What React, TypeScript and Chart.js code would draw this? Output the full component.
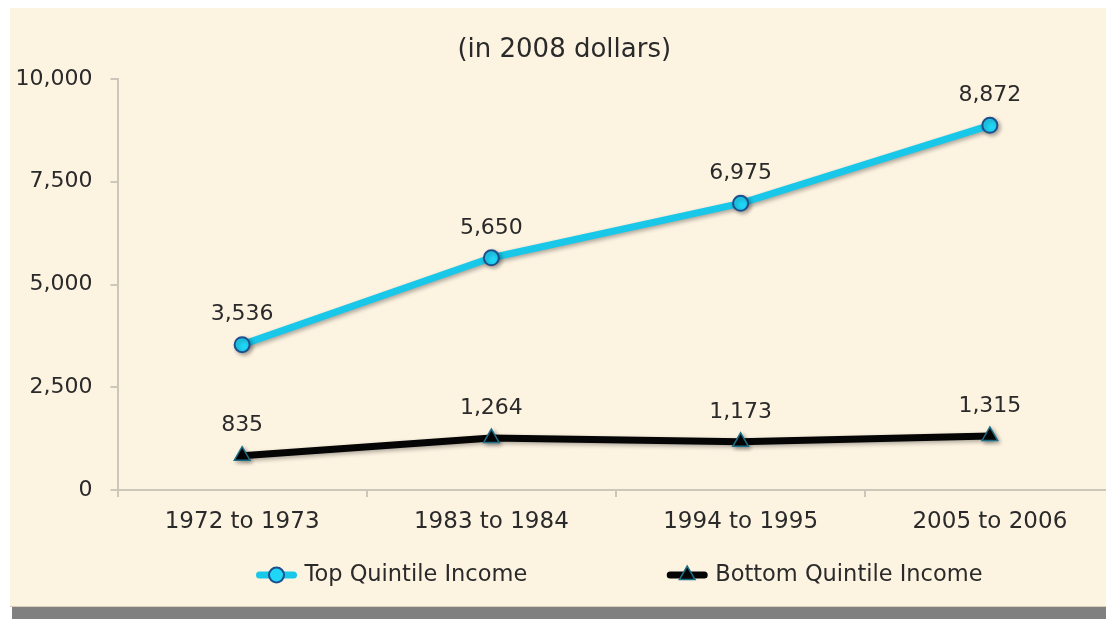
import React, { useEffect, useRef } from "react";
import { Chart, registerables } from "chart.js";

Chart.register(...registerables);

// ---- data ----
const categories = ["1972 to 1973", "1983 to 1984", "1994 to 1995", "2005 to 2006"];
const topQuintile = [3536, 5650, 6975, 8872];
const bottomQuintile = [835, 1264, 1173, 1315];
const seriesNames = ["Top Quintile Income", "Bottom Quintile Income"];
const yTickValues = [0, 2500, 5000, 7500, 10000];
const titleText = "(in 2008 dollars)";

// ---- styles ----
const FONT = "'DejaVu Sans', 'Lucida Grande', Verdana, sans-serif";
const TEXT = "#2a2a2a";
const AXIS = "#cdc7bb";
const CYAN_LINE = "#19c7e8";
const CYAN_FILL = "#1fd6f6";
const CYAN_EDGE = "#1d4f8f";
const BLACK = "#050505";
const TRI_EDGE = "#1b6f86";

const fmt = (v: number) => v.toLocaleString("en-US");

const shadowPlugin = {
  id: "softShadow",
  beforeDatasetDraw(chart: any) {
    const ctx = chart.ctx;
    ctx.save();
    ctx.shadowColor = "rgba(0,0,0,0.32)";
    ctx.shadowBlur = 4;
    ctx.shadowOffsetX = 2;
    ctx.shadowOffsetY = 2;
  },
  afterDatasetDraw(chart: any) {
    chart.ctx.restore();
  },
};

const valueLabelPlugin = {
  id: "valueLabels",
  afterDatasetsDraw(chart: any) {
    const ctx = chart.ctx;
    ctx.save();
    ctx.font = `22px ${FONT}`;
    ctx.fillStyle = TEXT;
    ctx.textAlign = "center";
    ctx.textBaseline = "middle";
    chart.data.datasets.forEach((ds: any, i: number) => {
      const meta = chart.getDatasetMeta(i);
      meta.data.forEach((el: any, j: number) => {
        ctx.fillText(fmt(ds.data[j]), el.x, el.y - 30);
      });
    });
    ctx.restore();
  },
};

function drawMarker(ctx: CanvasRenderingContext2D, ds: any, x: number, y: number) {
  const r = ds.pointRadius;
  ctx.beginPath();
  if (ds.pointStyle === "triangle") {
    for (let k = 0; k < 3; k++) {
      const a = (k * 2 * Math.PI) / 3;
      const px = x + Math.sin(a) * r;
      const py = y - Math.cos(a) * r;
      if (k === 0) ctx.moveTo(px, py);
      else ctx.lineTo(px, py);
    }
    ctx.closePath();
  } else {
    ctx.arc(x, y, r, 0, Math.PI * 2);
  }
  ctx.fillStyle = ds.pointBackgroundColor;
  ctx.fill();
  ctx.lineWidth = ds.pointBorderWidth;
  ctx.strokeStyle = ds.pointBorderColor;
  ctx.stroke();
}

const legendPlugin = {
  id: "lineLegend",
  afterDraw(chart: any) {
    const { ctx, chartArea } = chart;
    const y = chartArea.bottom + 85;
    const lineW = 40;
    const textGap = 8;
    const itemGap = 140;
    ctx.save();
    ctx.font = `22.5px ${FONT}`;
    const items = chart.data.datasets.map((ds: any) => ({
      ds,
      w: ctx.measureText(ds.label).width,
    }));
    let total = 0;
    items.forEach((it: any, i: number) => {
      total += lineW + textGap + it.w + (i > 0 ? itemGap : 0);
    });
    let x = (chartArea.left + chartArea.right) / 2 + 3.5 - total / 2;
    items.forEach((it: any) => {
      const ds = it.ds;
      ctx.beginPath();
      ctx.lineCap = "round";
      ctx.lineWidth = 7;
      ctx.strokeStyle = ds.borderColor;
      ctx.moveTo(x + 3, y);
      ctx.lineTo(x + lineW - 3, y);
      ctx.stroke();
      drawMarker(ctx, ds, x + lineW / 2, y);
      ctx.fillStyle = TEXT;
      ctx.textAlign = "left";
      ctx.textBaseline = "middle";
      ctx.fillText(ds.label, x + lineW + textGap, y);
      x += lineW + textGap + it.w + itemGap;
    });
    ctx.restore();
  },
};

export default function App() {
  const ref = useRef<HTMLCanvasElement>(null);

  useEffect(() => {
    Chart.defaults.font.family = FONT;
    Chart.defaults.color = TEXT;
    const chart = new Chart(ref.current as HTMLCanvasElement, {
      type: "line",
      data: {
        labels: categories,
        datasets: [
          {
            label: seriesNames[0],
            data: topQuintile,
            borderColor: CYAN_LINE,
            borderWidth: 7,
            tension: 0,
            pointStyle: "circle",
            pointRadius: 7.5,
            pointBackgroundColor: CYAN_FILL,
            pointBorderColor: CYAN_EDGE,
            pointBorderWidth: 2,
            borderCapStyle: "round",
            borderJoinStyle: "round",
          } as any,
          {
            label: seriesNames[1],
            data: bottomQuintile,
            borderColor: BLACK,
            borderWidth: 7,
            tension: 0,
            pointStyle: "triangle",
            pointRadius: 9,
            pointBackgroundColor: BLACK,
            pointBorderColor: TRI_EDGE,
            pointBorderWidth: 1.5,
            borderCapStyle: "round",
            borderJoinStyle: "round",
          } as any,
        ],
      },
      options: {
        responsive: false,
        animation: false,
        devicePixelRatio: 1,
        layout: { padding: { left: 0, right: 6.5, top: 0, bottom: 67 } },
        plugins: {
          legend: { display: false },
          tooltip: { enabled: false },
          title: {
            display: true,
            text: titleText,
            color: TEXT,
            font: { size: 26, weight: "normal", family: FONT },
            padding: { top: 26.4, bottom: 13.4 },
          },
        },
        scales: {
          x: {
            type: "category",
            offset: true,
            grid: {
              display: true,
              drawOnChartArea: false,
              drawTicks: true,
              tickLength: 7,
              color: AXIS,
              lineWidth: 2,
              offset: true,
            },
            border: { display: true, color: AXIS, width: 2 },
            ticks: { color: TEXT, font: { size: 23 }, padding: 11, maxRotation: 0 },
            afterFit: (scale: any) => {
              scale.height = 50;
            },
          },
          y: {
            min: 0,
            max: 10000,
            grid: {
              display: true,
              drawOnChartArea: false,
              drawTicks: true,
              tickLength: 7,
              color: AXIS,
              lineWidth: 2,
            },
            border: { display: true, color: AXIS, width: 2 },
            afterBuildTicks: (scale: any) => {
              scale.ticks = yTickValues.map((v) => ({ value: v }));
            },
            ticks: {
              color: TEXT,
              font: { size: 22 },
              padding: 18,
              callback: (v: any) => fmt(Number(v)),
            },
            afterFit: (scale: any) => {
              scale.width = 107.5;
            },
          },
        },
      },
      plugins: [shadowPlugin, valueLabelPlugin, legendPlugin],
    });
    return () => chart.destroy();
  }, []);

  return (
    <div
      style={{
        position: "fixed",
        left: 0,
        top: 0,
        width: 1106,
        height: 619,
        background: "#ffffff",
        overflow: "hidden",
      }}
    >
      <div
        style={{
          position: "absolute",
          left: 10,
          top: 8,
          width: 1096,
          height: 599,
          background: "#fdf3e1",
          overflow: "hidden",
        }}
      >
        <canvas ref={ref} width={1115} height={599} style={{ display: "block", width: 1115, height: 599 }} />
      </div>
      <div style={{ position: "absolute", left: 10, top: 606, width: 1096, height: 1, background: "#d8ceb8" }} />
      <div style={{ position: "absolute", left: 12, top: 607, width: 1094, height: 12, background: "#808080" }} />
    </div>
  );
}
